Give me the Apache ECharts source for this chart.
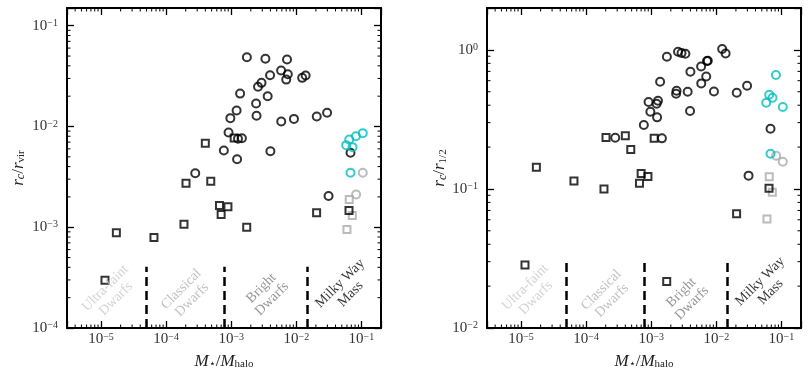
<!DOCTYPE html>
<html lang="en">
<head>
  <meta charset="UTF-8">
  <title>core radius vs stellar-to-halo mass ratio</title>
  <script src="https://cdn.jsdelivr.net/npm/echarts@6/dist/echarts.min.js"></script>
  <style>
    html, body, #main { margin: 0; padding: 0; background: #fff; }
    #main { width: 810px; height: 380px; }
  </style>
</head>
<body>
  <div id="main"></div>
  <script>
    // M*/Mhalo is shared by both panels, y values per panel
    const sqX      = [1.15e-5, 1.72e-5, 6.5e-5, 1.88e-4, 2.02e-4, 4.0e-4, 4.85e-4, 6.6e-4, 7.0e-4, 8.9e-4, 1.11e-3, 1.73e-3, 2.05e-2, 6.45e-2];
    const sqRvir   = [2.98e-4, 8.8e-4, 7.9e-4, 1.07e-3, 2.74e-3, 6.8e-3, 2.86e-3, 1.64e-3, 1.34e-3, 1.60e-3, 7.7e-3, 1.0e-3, 1.39e-3, 1.47e-3];
    const sqRhalf  = [0.0284, 0.143, 0.114, 0.100, 0.234, 0.2415, 0.1925, 0.110, 0.129, 0.123, 0.231, 0.0216, 0.0662, 0.101];

    const circX     = [2.8e-4, 7.7e-4, 9.1e-4, 9.7e-4, 1.21e-3, 1.23e-3, 1.27e-3, 1.37e-3, 1.46e-3, 1.74e-3, 2.41e-3, 2.45e-3, 2.58e-3, 2.92e-3, 3.35e-3,
                       3.63e-3, 3.95e-3, 4.0e-3, 5.84e-3, 5.87e-3, 7.0e-3, 7.2e-3, 7.4e-3, 9.2e-3, 1.23e-2, 1.39e-2, 2.06e-2, 2.97e-2, 3.13e-2, 6.8e-2];
    const circRvir  = [3.44e-3, 5.78e-3, 8.72e-3, 1.21e-2, 1.44e-2, 4.74e-3, 7.55e-3, 2.12e-2, 7.65e-3, 4.87e-2, 1.69e-2, 1.28e-2, 2.48e-2, 2.71e-2, 4.70e-2,
                       2.00e-2, 3.23e-2, 5.69e-3, 3.59e-2, 1.12e-2, 2.92e-2, 4.62e-2, 3.30e-2, 1.19e-2, 3.04e-2, 3.21e-2, 1.256e-2, 1.368e-2, 2.04e-3, 5.48e-3];
    const circRhalf = [0.2335, 0.2885, 0.422, 0.359, 0.410, 0.327, 0.431, 0.590, 0.231, 0.892, 0.484, 0.508, 0.969, 0.948, 0.938,
                       0.500, 0.363, 0.696, 0.760, 0.574, 0.644, 0.831, 0.835, 0.5025, 1.013, 0.942, 0.492, 0.552, 0.1246, 0.271];

    const cyanX     = [0.0584, 0.065, 0.068, 0.073, 0.0824, 0.105];
    const cyanRvir  = [6.53e-3, 7.43e-3, 3.48e-3, 6.24e-3, 8.01e-3, 8.59e-3];
    const cyanRhalf = [0.417, 0.476, 0.179, 0.453, 0.659, 0.388];

    const grayCircX     = [0.083, 0.105];
    const grayCircRvir  = [2.11e-3, 3.48e-3];
    const grayCircRhalf = [0.1734, 0.157];

    const graySqX     = [0.060, 0.065, 0.0725];
    const graySqRvir  = [9.5e-4, 1.89e-3, 1.31e-3];
    const graySqRhalf = [0.0609, 0.1226, 0.0945];

    // regime boundaries and their names
    const regionEdges  = [5e-5, 7.9e-4, 1.48e-2];
    const regionNames  = ['Ultra-faint\nDwarfs', 'Classical\nDwarfs', 'Bright\nDwarfs', 'Milky Way\nMass'];
    const regionColors = ['#c8c8c8', '#b0b0b0', '#7a7a7a', '#000000'];
    const regionLabelX = [1.4e-5, 2.06e-4, 3.5e-3, 0.0565];

    const SERIF = '"Liberation Serif", "DejaVu Serif", serif';
    const X_MIN = 3e-6, X_MAX = 0.2;

    const panels = [
      {
        left: 67, yMin: 1e-4, yMax: 0.15, nameGap: 40, edgeTop: 4.05e-4,
        labelY: [2.2e-4, 2.15e-4, 2.2e-4, 2.45e-4],
        yName: '{i|r}{si|c}{n|/}{i|r}{s|vir}',
        sq: sqRvir, circ: circRvir, cyan: cyanRvir, grayCirc: grayCircRvir, graySq: graySqRvir
      },
      {
        left: 487, yMin: 1e-2, yMax: 2, nameGap: 34, edgeTop: 0.030,
        labelY: [0.018, 0.0172, 0.0165, 0.0198],
        yName: '{i|r}{si|c}{n|/}{i|r}{s|1/2}',
        sq: sqRhalf, circ: circRhalf, cyan: cyanRhalf, grayCirc: grayCircRhalf, graySq: graySqRhalf
      }
    ];

    const nameRich = {
      i: { fontFamily: SERIF, fontStyle: 'italic', fontSize: 17, color: '#222' },
      n: { fontFamily: SERIF, fontSize: 17, color: '#222' },
      s: { fontFamily: SERIF, fontSize: 11, color: '#222', verticalAlign: 'bottom' },
      si: { fontFamily: SERIF, fontStyle: 'italic', fontSize: 12, color: '#222', verticalAlign: 'bottom' }
    };
    const tickRich = {
      b: { fontFamily: SERIF, fontSize: 15, color: '#333' },
      e: { fontFamily: SERIF, fontSize: 10, color: '#333', verticalAlign: 'top', padding: [0, 0, 5, 0] }
    };

    const powLabel = (v) => {
      const e = Math.log10(v);
      const r = Math.round(e);
      if (Math.abs(e - r) > 1e-6) return '';
      return '{b|10}{e|' + (r < 0 ? '\u2212' + (-r) : r) + '}';
    };

    const minorValues = (lo, hi) => {
      const out = [];
      for (let d = Math.floor(Math.log10(lo)); d <= Math.ceil(Math.log10(hi)); d++) {
        for (let k = 2; k <= 9; k++) {
          const v = k * Math.pow(10, d);
          if (v > lo * 1.0001 && v < hi * 0.9999) out.push(v);
        }
      }
      return out;
    };

    const boxLine = { show: true, lineStyle: { color: '#000', width: 2 } };
    const majorTick = { show: true, inside: true, length: 7, lineStyle: { color: '#000', width: 1.3 } };

    const grid = [], xAxis = [], yAxis = [], series = [];
    const pairs = (xs, ys) => xs.map((x, i) => [x, ys[i]]);

    panels.forEach((p, gi) => {
      grid.push({ left: p.left, top: 8, width: 314, height: 320 });

      xAxis.push({
        type: 'log', logBase: 10, gridIndex: gi, min: X_MIN, max: X_MAX,
        axisLine: boxLine, axisTick: majorTick, splitLine: { show: false },
        axisLabel: { formatter: powLabel, margin: 4, rich: tickRich },
        name: '{i|M}{s|\u22c6}{n|/}{i|M}{s|halo}', nameLocation: 'middle', nameGap: 25,
        nameTextStyle: { rich: nameRich }
      }, {
        type: 'log', logBase: 10, gridIndex: gi, min: X_MIN, max: X_MAX, position: 'top',
        axisLine: boxLine, axisTick: majorTick, axisLabel: { show: false }, splitLine: { show: false }
      });

      yAxis.push({
        type: 'log', logBase: 10, gridIndex: gi, min: p.yMin, max: p.yMax,
        axisLine: boxLine, axisTick: majorTick, splitLine: { show: false },
        axisLabel: { formatter: powLabel, margin: 9, rich: tickRich },
        name: p.yName, nameLocation: 'middle', nameRotate: 90, nameGap: p.nameGap,
        nameTextStyle: { rich: nameRich }
      }, {
        type: 'log', logBase: 10, gridIndex: gi, min: p.yMin, max: p.yMax, position: 'right',
        axisLine: boxLine, axisTick: majorTick, axisLabel: { show: false }, splitLine: { show: false }
      });

      const ax = { xAxisIndex: gi * 2, yAxisIndex: gi * 2 };
      const hollow = (color, symbol, size, data) => Object.assign({
        type: 'scatter', symbol: symbol, symbolSize: size, data: data, silent: true,
        itemStyle: { color: 'rgba(0,0,0,0)', borderColor: color, borderWidth: 2 }
      }, ax);

      series.push(hollow('#aaaaaa', 'rect', 7, pairs(graySqX, p.graySq)));
      series.push(hollow('#aaaaaa', 'circle', 8, pairs(grayCircX, p.grayCirc)));
      series.push(hollow('#000000', 'rect', 7, pairs(sqX, p.sq)));
      series.push(hollow('#000000', 'circle', 8, pairs(circX, p.circ)));
      series.push(hollow('#00bfbf', 'circle', 8, pairs(cyanX, p.cyan)));

      // regime names + dashed boundaries
      series.push(Object.assign({
        type: 'scatter', symbolSize: 1, silent: true,
        itemStyle: { color: 'rgba(0,0,0,0)' },
        data: regionNames.map((n, i) => ({
          name: n, value: [regionLabelX[i], p.labelY[i]], label: { color: regionColors[i] }
        })),
        label: {
          show: true, position: 'inside', rotate: 45, formatter: '{b}',
          fontFamily: SERIF, fontSize: 14, lineHeight: 15, align: 'center'
        },
        markLine: {
          silent: true, symbol: ['none', 'none'], label: { show: false },
          lineStyle: { color: '#000', width: 2.5, type: [9, 5] },
          data: regionEdges.map(x => [{ coord: [x, p.yMin] }, { coord: [x, p.edgeTop] }])
        }
      }, ax));

      // log minor ticks on all four sides
      const tickStyle = { stroke: '#000', lineWidth: 1 };
      const len = 3.5;
      series.push(Object.assign({
        type: 'custom', silent: true, clip: false,
        data: minorValues(X_MIN, X_MAX).map(v => [v, p.yMin]),
        renderItem: (params, api) => {
          const a = api.coord([api.value(0), p.yMin]);
          const b = api.coord([api.value(0), p.yMax]);
          return { type: 'group', children: [
            { type: 'line', shape: { x1: a[0], y1: a[1], x2: a[0], y2: a[1] - len }, style: tickStyle },
            { type: 'line', shape: { x1: b[0], y1: b[1], x2: b[0], y2: b[1] + len }, style: tickStyle }
          ] };
        }
      }, ax));
      series.push(Object.assign({
        type: 'custom', silent: true, clip: false,
        data: minorValues(p.yMin, p.yMax).map(v => [X_MIN, v]),
        renderItem: (params, api) => {
          const a = api.coord([X_MIN, api.value(1)]);
          const b = api.coord([X_MAX, api.value(1)]);
          return { type: 'group', children: [
            { type: 'line', shape: { x1: a[0], y1: a[1], x2: a[0] + len, y2: a[1] }, style: tickStyle },
            { type: 'line', shape: { x1: b[0], y1: b[1], x2: b[0] - len, y2: b[1] }, style: tickStyle }
          ] };
        }
      }, ax));
    });

    const chart = echarts.init(document.getElementById('main'));
    chart.setOption({
      animation: false,
      backgroundColor: '#fff',
      grid: grid,
      xAxis: xAxis,
      yAxis: yAxis,
      series: series
    });
  </script>
</body>
</html>
